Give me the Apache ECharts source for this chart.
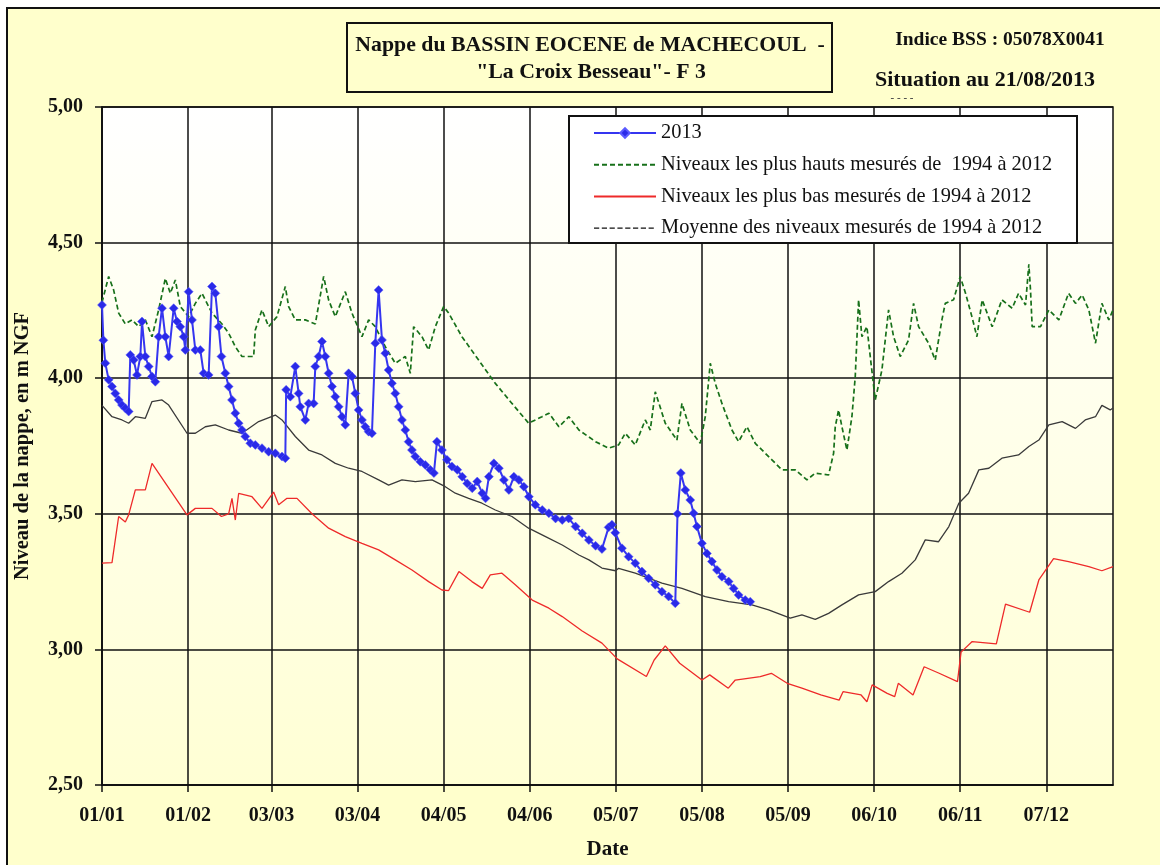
<!DOCTYPE html>
<html>
<head>
<meta charset="utf-8">
<script src="https://cdn.jsdelivr.net/npm/echarts@6/dist/echarts.min.js"></script>
<style>
html,body{margin:0;padding:0;background:#ffffff;}
#chart{width:1160px;height:865px;}
</style>
</head>
<body>
<div id="chart"></div>
<script>
// ---- Axis ticks (day of year, 0 = 01/01) ----
const tickDays = [0, 31, 61, 92, 123, 154, 185, 216, 247, 278, 309, 340];
const tickLabels = ['01/01', '01/02', '03/03', '03/04', '04/05', '04/06', '05/07', '05/08', '05/09', '06/10', '06/11', '07/12'];

// ---- Series names ----
const name2013 = '2013';
const nameMax = 'Niveaux les plus hauts mesurés de  1994 à 2012';
const nameMin = 'Niveaux les plus bas mesurés de 1994 à 2012';
const nameMean = 'Moyenne des niveaux mesurés de 1994 à 2012';

// ---- 2013 measured levels [day, m NGF] ----
const levels2013 = [
[0,4.27],[0.5,4.14],[1.2,4.055],[2.4,3.994],[3.6,3.969],[4.8,3.944],[6,3.92],[7.2,3.901],[8.4,3.889],[9.6,3.877],
[10.2,4.086],[11.4,4.067],[12.6,4.012],[13.8,4.08],[14.4,4.209],[15.6,4.08],[16.8,4.043],[18,4.006],[19.2,3.987],[20.4,4.153],
[21.6,4.258],[22.8,4.153],[24,4.08],[25.8,4.258],[27,4.209],[28.2,4.19],[29.4,4.153],[30,4.104],[31.2,4.319],[32.4,4.215],
[33.6,4.104],[35.4,4.104],[36.6,4.018],[38.4,4.012],[39.6,4.338],[40.8,4.313],[42,4.19],[43,4.08],[44.4,4.018],[45.6,3.969],
[46.8,3.92],[48,3.871],[49.2,3.834],[50.4,3.809],[51.6,3.785],[53.4,3.76],[55.2,3.754],[57.6,3.742],[60,3.729],[62.4,3.723],
[64.8,3.711],[66,3.705],[66.3,3.957],[67.8,3.932],[69.6,4.043],[70.8,3.944],[71.4,3.895],[73.2,3.846],[74.4,3.907],[76.2,3.907],
[76.8,4.043],[78,4.08],[79.2,4.135],[80.4,4.08],[81.6,4.018],[82.8,3.969],[84,3.932],[85.2,3.895],[86.4,3.858],[87.6,3.828],
[88.8,4.018],[90,4.006],[91.2,3.944],[92.4,3.883],[93.6,3.846],[94.8,3.821],[96,3.803],[97.2,3.797],[98.4,4.129],[99.6,4.325],
[100.8,4.141],[102,4.092],[103.2,4.03],[104.4,3.981],[105.6,3.944],[106.8,3.895],[108,3.846],[109.2,3.809],[110.4,3.766],[111.6,3.735],
[112.8,3.711],[114.6,3.692],[116.4,3.68],[118.2,3.662],[119.5,3.65],[120.6,3.766],[122.4,3.735],[124.2,3.699],[126,3.674],[127.9,3.662],
[129.7,3.637],[131.5,3.612],[133.3,3.594],[135.1,3.619],[136.9,3.576],[138.1,3.557],[139.3,3.637],[141.1,3.686],[142.9,3.668],[144.7,3.625],
[146.5,3.588],[148.3,3.637],[150.1,3.625],[151.9,3.6],[153.7,3.563],[156,3.533],[158.5,3.514],[160.9,3.502],[163.3,3.483],[165.7,3.477],
[168,3.483],[170.5,3.453],[172.9,3.428],[175.3,3.403],[177.7,3.382],[180,3.37],[182.4,3.45],[183.6,3.46],[184.8,3.43],[187.2,3.373],
[189.6,3.342],[192,3.318],[194.4,3.287],[196.8,3.262],[199.2,3.238],[201.6,3.213],[204,3.195],[206.4,3.17],[207.2,3.5],[208.4,3.65],
[210,3.588],[211.8,3.551],[213,3.502],[214.2,3.453],[216,3.391],[217.8,3.354],[219.6,3.324],[221.4,3.293],[223.2,3.268],[225.6,3.25],
[227.4,3.225],[229.2,3.201],[231.6,3.182],[233.4,3.176]
];

// ---- Highest levels 1994-2012 ----
const maxLevels = [
[0,4.28],[2.4,4.375],[4.2,4.325],[6,4.24],[8.4,4.2],[10.8,4.215],[13.2,4.19],[15.6,4.215],[18,4.153],[20.4,4.252],
[22.8,4.368],[24.6,4.313],[26.4,4.362],[28.2,4.264],[31.2,4.227],[33.6,4.276],[36,4.313],[39.6,4.24],[43.2,4.2],[45.6,4.166],
[48,4.116],[50.4,4.08],[54.6,4.08],[55.2,4.178],[57.6,4.252],[60,4.19],[63,4.227],[66,4.338],[67.2,4.264],[69.6,4.215],
[73.2,4.215],[76.8,4.2],[79.8,4.375],[81.6,4.288],[84,4.227],[87.6,4.319],[90,4.24],[93.6,4.153],[96,4.215],[98.4,4.19],
[102,4.116],[105.6,4.055],[109.2,4.08],[111,4.018],[112.2,4.19],[115.2,4.153],[117.6,4.104],[120,4.19],[123,4.264],[124.8,4.24],
[129.6,4.153],[135.6,4.067],[141.6,3.981],[147.6,3.907],[153.6,3.834],[158.4,3.858],[160.9,3.871],[164.5,3.821],[168.1,3.858],[171.7,3.809],
[177.7,3.766],[182.4,3.742],[186,3.754],[188.4,3.797],[192,3.754],[195.6,3.846],[197.4,3.809],[199.2,3.95],[202.8,3.834],[207,3.772],
[208.8,3.907],[211.8,3.809],[215.4,3.76],[217.2,3.858],[219,4.055],[220.8,3.981],[223.2,3.907],[226.8,3.809],[229.2,3.766],[232.2,3.821],
[235.2,3.76],[241.2,3.699],[244.8,3.662],[249.6,3.662],[253.8,3.625],[256.8,3.65],[261.6,3.643],[263.4,3.723],[264,3.821],[265.2,3.883],
[266.4,3.821],[268.2,3.735],[270,3.858],[271.2,4.006],[272.4,4.289],[273.6,4.153],[275.4,4.19],[276.6,4.08],[278.4,3.92],[280.8,4.03],
[283.2,4.252],[285,4.153],[287.4,4.08],[290.4,4.141],[292.2,4.276],[294,4.19],[297.6,4.129],[300,4.067],[302.4,4.215],[303.6,4.276],
[306.6,4.289],[309,4.375],[310.9,4.313],[313.2,4.227],[315,4.153],[316.9,4.289],[320.5,4.19],[324,4.289],[327.7,4.258],[330,4.313],
[332.5,4.27],[333.7,4.42],[334.3,4.325],[334.9,4.19],[337.9,4.19],[340.9,4.252],[344.5,4.215],[348,4.313],[350.5,4.276],[352.9,4.307],
[355.3,4.252],[357.7,4.129],[360,4.276],[362.5,4.215],[364,4.252]
];

// ---- Lowest levels 1994-2012 ----
const minLevels = [
[0,3.318],[3.6,3.32],[6,3.49],[8.4,3.47],[9.6,3.496],[12,3.588],[15.6,3.588],[18,3.686],[30.6,3.496],[33.6,3.52],
[39.6,3.52],[43,3.49],[45.6,3.5],[46.8,3.557],[48,3.477],[49.2,3.575],[54,3.563],[57.6,3.52],[61.8,3.58],[63.6,3.533],
[66.6,3.557],[70.2,3.557],[75.6,3.5],[81.6,3.447],[87.6,3.416],[93.6,3.391],[99.6,3.367],[105.6,3.33],[111.6,3.293],[117.6,3.25],
[122.4,3.219],[124.8,3.217],[128.5,3.287],[133.2,3.25],[136.9,3.225],[139.8,3.275],[144,3.281],[148.8,3.238],[154.9,3.182],[160.9,3.152],
[165.7,3.121],[172.9,3.068],[180,3.023],[185.5,2.965],[196,2.9],[198.8,2.961],[202.8,3.013],[208,2.949],[216,2.887],[218.8,2.906],
[225.5,2.857],[228,2.887],[237,2.9],[241,2.912],[246.7,2.875],[252,2.857],[258.8,2.832],[265.4,2.813],[266.8,2.844],[273.3,2.832],
[275.4,2.807],[277.3,2.869],[282.7,2.838],[285.4,2.826],[286.7,2.875],[292,2.832],[296,2.936],[301.4,2.912],[308,2.881],[309.3,2.99],
[313.3,3.029],[322,3.02],[325.3,3.167],[334,3.137],[337.3,3.256],[342.6,3.335],[348,3.324],[355.3,3.305],[360,3.29],[364,3.305]
];

// ---- Mean levels 1994-2012 ----
const meanLevels = [
[0,3.9],[3.6,3.858],[7.2,3.846],[9.6,3.834],[12,3.858],[15.6,3.852],[18,3.914],[21.6,3.92],[24,3.901],[30.6,3.797],
[33.6,3.797],[37.2,3.821],[40.8,3.828],[45.6,3.809],[50.4,3.797],[56.4,3.84],[62.4,3.864],[64.8,3.846],[69.6,3.785],[74.4,3.735],
[79.2,3.717],[84,3.686],[88.8,3.668],[93.6,3.656],[99.6,3.625],[103.2,3.606],[108,3.625],[112.8,3.619],[118.8,3.625],[123.6,3.6],
[127.2,3.576],[132,3.557],[136.8,3.539],[141.6,3.514],[147.6,3.49],[153.6,3.447],[159.7,3.416],[165.7,3.385],[171.7,3.348],[175.3,3.33],
[180,3.3],[184.9,3.29],[186,3.299],[192,3.281],[201.6,3.244],[208.8,3.225],[217.2,3.195],[225.6,3.176],[234,3.164],[240,3.146],
[247.8,3.115],[252,3.127],[256.8,3.111],[261.6,3.133],[266.4,3.164],[272.4,3.201],[278.4,3.213],[283.2,3.25],[288,3.281],[292.8,3.33],
[296.4,3.404],[301.2,3.397],[304.9,3.453],[308.5,3.539],[312,3.576],[315.7,3.662],[319.3,3.668],[324,3.705],[330,3.717],[333.7,3.748],
[337.3,3.772],[340.9,3.828],[345.7,3.84],[350.5,3.815],[354,3.846],[357.7,3.858],[360,3.9],[363,3.883],[364,3.89]
];

// ---- Texts ----
const titleLine1 = 'Nappe du BASSIN EOCENE de MACHECOUL  -';
const titleLine2 = '"La Croix Besseau"- F 3';
const bssText = 'Indice BSS : 05078X0041';
const situationText = 'Situation au 21/08/2013';
const yAxisTitle = 'Niveau de la nappe, en m NGF';
const xAxisTitle = 'Date';

const SERIF = '"Liberation Serif", "Times New Roman", serif';
const INK = '#111111';

const chart = echarts.init(document.getElementById('chart'), null, {renderer: 'canvas'});

const option = {
  backgroundColor: '#ffffff',
  animation: false,
  graphic: [
    {type: 'rect', z: -100, silent: true, shape: {x: 7, y: 8, width: 1170, height: 880},
     style: {fill: '#ffffcc', stroke: INK, lineWidth: 2}},
    {type: 'rect', z: 1, silent: true, shape: {x: 347, y: 23, width: 485, height: 69},
     style: {fill: '#ffffcc', stroke: INK, lineWidth: 2}},
    {type: 'rect', z: 3, silent: true, shape: {x: 569, y: 116, width: 508, height: 127},
     style: {fill: '#ffffff', stroke: INK, lineWidth: 2}},
    {type: 'text', z: 10, silent: true, x: 590, y: 45,
     style: {text: titleLine1, fontFamily: SERIF, fontWeight: 'bold', fontSize: 21.8, fill: INK, align: 'center', verticalAlign: 'middle'}},
    {type: 'text', z: 10, silent: true, x: 591, y: 72,
     style: {text: titleLine2, fontFamily: SERIF, fontWeight: 'bold', fontSize: 21.8, fill: INK, align: 'center', verticalAlign: 'middle'}},
    {type: 'text', z: 10, silent: true, x: 1000, y: 40,
     style: {text: bssText, fontFamily: SERIF, fontWeight: 'bold', fontSize: 19.5, fill: INK, align: 'center', verticalAlign: 'middle'}},
    {type: 'text', z: 10, silent: true, x: 985, y: 80,
     style: {text: situationText, fontFamily: SERIF, fontWeight: 'bold', fontSize: 22, fill: INK, align: 'center', verticalAlign: 'middle'}},
    {type: 'text', z: 10, silent: true, x: 902, y: 98,
     style: {text: '- - - -', fontFamily: SERIF, fontWeight: 'bold', fontSize: 11, fill: '#444', align: 'center', verticalAlign: 'middle'}}
  ],
  grid: {
    left: 102, top: 107, right: 47, bottom: 80,
    show: true, borderColor: INK, borderWidth: 1.5,
    backgroundColor: {type: 'linear', x: 0, y: 0, x2: 0, y2: 1,
      colorStops: [{offset: 0, color: '#ffffff'}, {offset: 1, color: '#ffffd4'}]}
  },
  legend: {
    orient: 'vertical', left: 593, top: 123, padding: 0,
    itemWidth: 62, itemHeight: 12, itemGap: 11.7,
    z: 4,
    textStyle: {fontFamily: SERIF, fontSize: 20.4, color: INK, lineHeight: 20},
    data: [
      {name: name2013},
      {name: nameMax, itemStyle: {opacity: 0}},
      {name: nameMin, itemStyle: {opacity: 0}},
      {name: nameMean, itemStyle: {opacity: 0}, lineStyle: {type: 'dashed', color: INK, width: 1.3}}
    ]
  },
  xAxis: {
    type: 'value', min: 0, max: 364,
    name: xAxisTitle, nameLocation: 'middle', nameGap: 54,
    nameTextStyle: {fontFamily: SERIF, fontWeight: 'bold', fontSize: 21, color: INK},
    axisLine: {show: true, onZero: false, lineStyle: {color: INK, width: 1.5}},
    axisTick: {show: true, customValues: tickDays, length: 7, lineStyle: {color: INK, width: 1.5}},
    axisLabel: {customValues: tickDays, margin: 21, fontFamily: SERIF, fontWeight: 'bold', fontSize: 20, color: INK,
      formatter: function (v) { const i = tickDays.indexOf(Math.round(v)); return i >= 0 ? tickLabels[i] : ''; }},
    splitLine: {show: true, lineStyle: {color: INK, width: 1.5}}
  },
  yAxis: {
    type: 'value', min: 2.5, max: 5, interval: 0.5,
    name: yAxisTitle, nameLocation: 'middle', nameGap: 69, nameRotate: 90,
    nameTextStyle: {fontFamily: SERIF, fontWeight: 'bold', fontSize: 20.5, color: INK},
    axisLine: {show: true, lineStyle: {color: INK, width: 1.5}},
    axisTick: {show: true, length: 7, lineStyle: {color: INK, width: 1.5}},
    axisLabel: {margin: 19, fontFamily: SERIF, fontWeight: 'bold', fontSize: 20, color: INK,
      formatter: function (v) { return v.toFixed(2).replace('.', ','); }},
    splitLine: {show: true, lineStyle: {color: INK, width: 1.5}}
  },
  series: [
    {name: name2013, type: 'line', data: levels2013, z: 6,
     symbol: 'diamond', symbolSize: 9, showSymbol: true,
     color: '#2a2ae8',
     lineStyle: {color: '#3535f0', width: 2},
     itemStyle: {color: '#2a2ae8', borderColor: '#5a5aff', borderWidth: 0.5}},
    {name: nameMax, type: 'line', data: maxLevels, z: 4, symbol: 'none',
     color: '#17701a', lineStyle: {color: '#17701a', width: 1.7, type: [5, 3]}},
    {name: nameMin, type: 'line', data: minLevels, z: 4, symbol: 'none',
     color: '#ee2a2a', lineStyle: {color: '#ee2a2a', width: 1.3}},
    {name: nameMean, type: 'line', data: meanLevels, z: 4, symbol: 'none',
     color: '#3a3a3a', lineStyle: {color: '#3a3a3a', width: 1.3}}
  ]
};
chart.setOption(option);
</script>
</body>
</html>
